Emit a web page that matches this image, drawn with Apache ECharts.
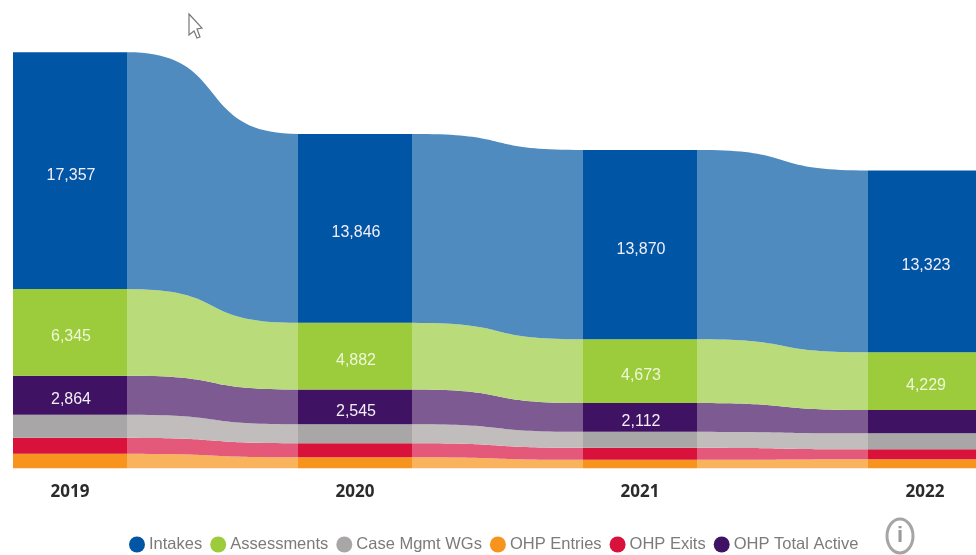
<!DOCTYPE html>
<html>
<head>
<meta charset="utf-8">
<style>
    html, body { margin: 0; padding: 0; background: #fff; }
    #chart { width: 976px; height: 555px; }
</style>
<script src="https://cdn.jsdelivr.net/npm/echarts@6/dist/echarts.min.js"></script>
</head>
<body>
<div id="chart"></div>
<script>
    var years = ['2019', '2020', '2021', '2022'];

    // stack order, top to bottom in the picture
    var intakes = [17357, 13846, 13870, 13323];
    var assessments = [6345, 4882, 4673, 4229];
    var totalActive = [2864, 2545, 2112, 1710];
    var caseMgmt = [1690, 1390, 1170, 1170];
    var exits = [1170, 1030, 880, 730];
    var entries = [1060, 810, 620, 660];

    var legendOrder = ['Intakes', 'Assessments', 'Case Mgmt WGs', 'OHP Entries', 'OHP Exits', 'OHP Total Active'];

    var font = '"Liberation Sans", sans-serif';
    var barShare = 0.4;

    // drawn bottom up so the stack comes out the right way round
    var layers = [
        { name: 'OHP Entries', values: entries, bar: '#f7941e', ribbon: '#f8b35c' },
        { name: 'OHP Exits', values: exits, bar: '#d8123a', ribbon: '#e4587a' },
        { name: 'Case Mgmt WGs', values: caseMgmt, bar: '#a8a6a6', ribbon: '#c1bdbd' },
        { name: 'OHP Total Active', values: totalActive, bar: '#3f1263', ribbon: '#7d5a91' },
        { name: 'Assessments', values: assessments, bar: '#9ccb3b', ribbon: '#b9db7a' },
        { name: 'Intakes', values: intakes, bar: '#0055a4', ribbon: '#4f8bbf' }
    ];

    // running bottom of every layer per year
    var bottoms = [];
    layers.forEach(function (layer, l) {
        bottoms[l] = years.map(function (y, i) {
            return l === 0 ? 0 : bottoms[l - 1][i] + layers[l - 1].values[i];
        });
    });

    // control points pushed past the middle, the ribbons stay flat near the bars
    function bezierEdge(x0, y0, x1, y1) {
        var pts = [], c0 = x0 + (x1 - x0) * 0.62, c1 = x0 + (x1 - x0) * 0.38, n = 40;
        for (var k = 0; k <= n; k++) {
            var t = k / n, u = 1 - t;
            pts.push([
                u * u * u * x0 + 3 * u * u * t * c0 + 3 * u * t * t * c1 + t * t * t * x1,
                u * u * u * y0 + 3 * u * u * t * y0 + 3 * u * t * t * y1 + t * t * t * y1
            ]);
        }
        return pts;
    }

    function ribbonRenderer(l) {
        return function (params, api) {
            var i = api.value(0);
            var half = api.size([1, 0])[0] * barShare / 2;
            var b0 = api.coord([i, bottoms[l][i]]), b1 = api.coord([i + 1, bottoms[l][i + 1]]);
            var t0 = api.coord([i, bottoms[l][i] + layers[l].values[i]]);
            var t1 = api.coord([i + 1, bottoms[l][i + 1] + layers[l].values[i + 1]]);
            var top = bezierEdge(t0[0] + half, t0[1], t1[0] - half, t1[1]);
            var bottom = bezierEdge(b0[0] + half, b0[1], b1[0] - half, b1[1]).reverse();
            return {
                type: 'polygon',
                shape: { points: top.concat(bottom) },
                style: { fill: layers[l].ribbon }
            };
        };
    }

    var series = [];

    layers.forEach(function (layer) {
        series.push({
            name: layer.name,
            type: 'bar',
            stack: 'total',
            barWidth: barShare * 100 + '%',
            data: layer.values,
            itemStyle: { color: layer.bar },
            label: {
                show: true,
                position: 'inside',
                offset: [1, 4.5],
                color: layer.name === 'Assessments' ? '#eef7d8' : '#f3eef8',
                fontFamily: font,
                fontSize: 16,
                // small layers carry no label in the picture
                formatter: function (p) {
                    return p.value >= 2000 ? p.value.toLocaleString('en-US') : '';
                }
            }
        });
    });

    layers.forEach(function (layer, l) {
        series.push({
            name: layer.name,
            type: 'custom',
            coordinateSystem: 'cartesian2d',
            renderItem: ribbonRenderer(l),
            data: [[0], [1], [2]],
            encode: { x: 0 },
            silent: true
        });
    });

    var chart = echarts.init(document.getElementById('chart'));

    chart.setOption({
        backgroundColor: '#fff',
        animation: false,
        grid: { left: -72.5, width: 1140, top: 22, height: 446.3, outerBoundsMode: 'none' },
        xAxis: {
            type: 'category',
            data: years,
            axisLine: { show: false },
            axisTick: { show: false },
            axisLabel: {
                color: '#2b2b2b',
                fontFamily: '"Open Sans", "Liberation Sans", sans-serif',
                fontWeight: 'bold',
                fontSize: 17,
                margin: 15
            }
        },
        yAxis: { type: 'value', min: 0, max: 32700, show: false },
        legend: {
            data: legendOrder.map(function (name) { return { name: name, icon: 'circle' }; }),
            left: 124,
            top: 531,
            itemWidth: 16,
            itemHeight: 16,
            itemGap: 8,
            selectedMode: false,
            textStyle: {
                color: '#7b7b7b',
                fontFamily: font,
                fontSize: 16.5,
                padding: [0, 0, 0, -1]
            }
        },
        series: series,
        graphic: [
            {
                type: 'ellipse',
                shape: { cx: 900, cy: 536, rx: 13, ry: 17 },
                style: { fill: '#fff', stroke: '#a5a5a5', lineWidth: 3 }
            },
            {
                type: 'text',
                x: 900,
                y: 536,
                style: {
                    text: 'i',
                    fill: '#9a9a9a',
                    font: 'bold 22px "Liberation Sans", sans-serif',
                    align: 'center',
                    verticalAlign: 'middle'
                }
            },
            {
                // mouse pointer caught in the screenshot
                type: 'polygon',
                shape: { points: [[189, 14], [202, 28], [197, 29], [200, 37], [197, 38], [194, 31], [189, 35]] },
                style: { fill: '#fff', stroke: '#777', lineWidth: 1.2 }
            }
        ]
    });
</script>
</body>
</html>
